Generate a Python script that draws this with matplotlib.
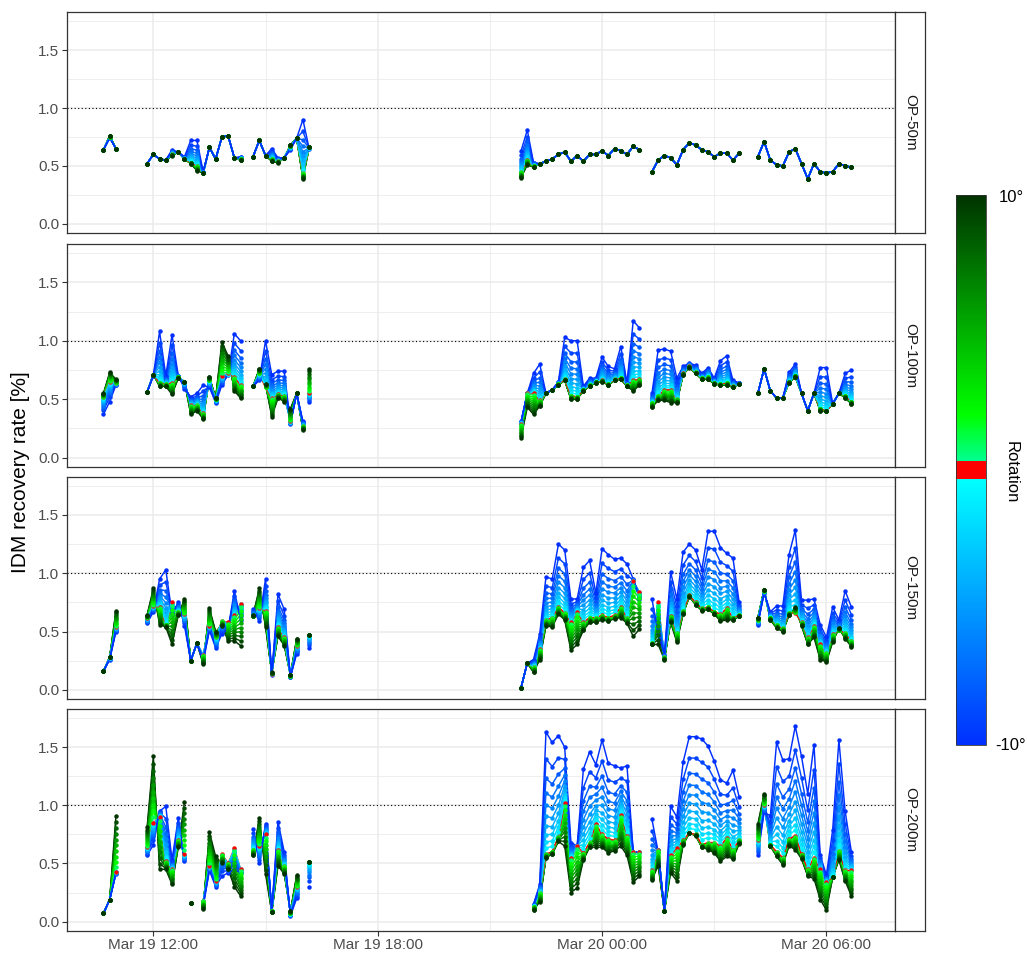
import numpy as np
import pandas as pd
import matplotlib
matplotlib.use("Agg")
import matplotlib.pyplot as plt
import matplotlib.dates as mdates
from matplotlib.ticker import MultipleLocator
from matplotlib.colors import LinearSegmentedColormap, Normalize
from matplotlib.cm import ScalarMappable

plt.rcParams['font.family'] = ['Liberation Sans', 'DejaVu Sans']

# ---------------------------------------------------------------- data
panel_names = ["OP-50m", "OP-100m", "OP-150m", "OP-200m"]
rotations = list(range(-10, 11))

# share of the (-10 deg minus 0 deg) gap reached at rotation -1 ... -10
spread_neg = [0.05, 0.10, 0.16, 0.23, 0.31, 0.40, 0.50, 0.62, 0.78, 1.00]
# share of the (+10 deg minus 0 deg) gap reached at rotation +1 ... +10
spread_pos = [0.08, 0.17, 0.27, 0.37, 0.47, 0.57, 0.67, 0.78, 0.89, 1.00]

# sampling runs (10 min steps), start / end
seg_50 = [("03-19 10:40", "03-19 11:00"), ("03-19 11:50", "03-19 14:20"),
          ("03-19 14:40", "03-19 16:10"), ("03-19 21:50", "03-20 01:00"),
          ("03-20 01:20", "03-20 03:40"), ("03-20 04:10", "03-20 06:40")]
seg_100 = [("03-19 10:40", "03-19 11:00"), ("03-19 11:50", "03-19 14:20"),
           ("03-19 14:40", "03-19 16:00"), ("03-19 16:10", "03-19 16:10"),
           ("03-19 21:50", "03-20 01:00"), ("03-20 01:20", "03-20 03:40"),
           ("03-20 04:10", "03-20 06:40")]
seg_150 = [("03-19 10:40", "03-19 11:00"), ("03-19 11:50", "03-19 14:20"),
           ("03-19 14:40", "03-19 15:50"), ("03-19 16:10", "03-19 16:10"),
           ("03-19 21:50", "03-20 01:00"), ("03-20 01:20", "03-20 03:40"),
           ("03-20 04:10", "03-20 06:40")]
seg_200 = [("03-19 10:40", "03-19 11:00"), ("03-19 11:50", "03-19 12:50"),
           ("03-19 13:00", "03-19 13:00"), ("03-19 13:20", "03-19 14:20"),
           ("03-19 14:40", "03-19 15:50"), ("03-19 16:10", "03-19 16:10"),
           ("03-19 22:10", "03-20 01:00"), ("03-20 01:20", "03-20 03:40"),
           ("03-20 04:10", "03-20 06:40")]

# recovery rate at rotation -10 deg (lo), 0 deg (mid), +10 deg (hi)
lo_50 = [.64, .74, .65,
         .52, .60, .56, .55, .64, .62, .58, .72, .72, .45, .66, .56, .75, .76, .57, .58,
         .58, .72, .59, .65, .57, .57, .64, .74, .90, .65,
         .63, .81, .53, .52, .54, .56, .60, .62, .54, .59, .54, .60, .60, .63, .59, .65, .63, .60, .67, .64,
         .45, .55, .59, .57, .51, .64, .70, .68, .64, .62, .58, .61, .61, .55, .61,
         .58, .71, .55, .51, .50, .62, .65, .52, .39, .52, .45, .44, .45, .52, .50, .49]
mid_50 = [.64, .75, .65,
          .52, .60, .56, .55, .60, .62, .56, .53, .50, .44, .66, .56, .75, .76, .57, .56,
          .58, .72, .59, .56, .54, .57, .67, .74, .44, .66,
          .45, .55, .50, .52, .54, .56, .60, .62, .54, .59, .54, .60, .60, .63, .59, .65, .63, .60, .67, .64,
          .45, .55, .59, .57, .51, .64, .70, .68, .64, .62, .58, .61, .61, .55, .61,
          .58, .71, .55, .51, .50, .62, .65, .52, .39, .52, .45, .44, .45, .52, .50, .49]
hi_50 = [.64, .76, .65,
         .52, .60, .56, .55, .59, .62, .56, .52, .46, .44, .66, .56, .75, .76, .57, .55,
         .58, .72, .59, .54, .53, .57, .68, .74, .39, .66,
         .40, .51, .49, .52, .54, .56, .60, .62, .54, .59, .54, .60, .60, .63, .59, .65, .63, .60, .67, .64,
         .45, .55, .59, .57, .51, .64, .70, .68, .64, .62, .58, .61, .61, .55, .61,
         .58, .71, .55, .51, .50, .62, .65, .52, .39, .52, .45, .44, .45, .52, .50, .49]

lo_100 = [.37, .48, .62,
          .56, .70, 1.08, .70, 1.05, .70, .59, .52, .55, .62, .60, .47, .62, .71, 1.06, 1.00,
          .61, .66, 1.00, .71, .74, .74, .29, .55, .31,
          .48,
          .31, .55, .72, .80, .55, .58, .65, 1.03, 1.00, 1.00, .61, .68, .68, .86, .78, .76, .95, .64, 1.17, 1.11,
          .55, .92, .93, .91, .68, .78, .81, .79, .72, .77, .68, .83, .87, .66, .64,
          .55, .76, .57, .51, .51, .73, .80, .55, .40, .55, .77, .77, .46, .55, .72, .75]
mid_100 = [.52, .65, .64,
           .56, .71, .64, .63, .64, .69, .65, .45, .45, .38, .66, .50, .70, .72, .69, .62,
           .61, .72, .60, .51, .54, .53, .31, .55, .27,
           .55,
           .29, .55, .55, .49, .55, .58, .63, .67, .53, .52, .58, .62, .65, .66, .63, .67, .68, .62, .66, .67,
           .47, .53, .58, .58, .50, .72, .78, .73, .68, .69, .64, .63, .64, .61, .63,
           .55, .76, .57, .51, .51, .65, .70, .55, .40, .55, .42, .40, .46, .55, .53, .48]
hi_100 = [.55, .73, .67,
          .56, .71, .61, .61, .54, .68, .65, .37, .40, .33, .69, .51, .99, .87, .57, .51,
          .61, .76, .63, .35, .51, .48, .42, .55, .24,
          .76,
          .17, .43, .37, .44, .55, .58, .62, .66, .50, .50, .57, .61, .64, .65, .62, .66, .67, .61, .57, .62,
          .43, .49, .49, .47, .47, .71, .77, .72, .67, .67, .63, .62, .62, .60, .63,
          .55, .76, .57, .51, .51, .64, .69, .55, .40, .55, .40, .40, .46, .55, .51, .46]

lo_150 = [.16, .26, .50,
          .57, .67, .95, 1.03, .65, .75, .55, .25, .40, .24, .51, .36, .48, .52, .85, .60,
          .69, .59, .95, .13, .82, .69, .11, .31,
          .36,
          .02, .23, .26, .48, .97, .95, 1.25, 1.20, .78, .78, 1.05, 1.11, .83, 1.21, 1.16, 1.12, 1.13, 1.08, .95, .78,
          .78, .48, .30, 1.01, .78, 1.18, 1.25, 1.20, 1.03, 1.36, 1.36, 1.22, 1.17, 1.13, .75,
          .56, .83, .67, .72, .72, 1.16, 1.37, .77, .77, .78, .56, .45, .71, .60, .85, .71]
mid_150 = [.16, .28, .54,
           .62, .72, .71, .56, .75, .67, .65, .25, .40, .30, .55, .45, .59, .58, .64, .74,
           .63, .70, .68, .14, .54, .45, .12, .38,
           .47,
           .02, .23, .20, .35, .60, .62, .71, .66, .58, .67, .58, .62, .62, .64, .62, .64, .71, .62, .93, .84,
           .40, .75, .28, .63, .49, .68, .81, .75, .70, .71, .67, .65, .70, .62, .64,
           .60, .85, .62, .56, .53, .66, .66, .58, .45, .55, .39, .32, .48, .51, .49, .42]
hi_150 = [.16, .28, .68,
          .64, .87, .56, .54, .39, .64, .78, .25, .40, .22, .70, .50, .55, .42, .42, .38,
          .64, .87, .54, .15, .46, .38, .13, .44,
          .47,
          .02, .23, .15, .26, .55, .54, .65, .60, .34, .39, .51, .58, .58, .60, .59, .61, .62, .57, .46, .52,
          .39, .39, .26, .58, .41, .65, .80, .73, .68, .69, .65, .59, .60, .60, .63,
          .62, .86, .60, .53, .50, .64, .71, .55, .39, .45, .26, .24, .41, .53, .44, .37]

lo_200 = [.07, .19, .41,
          .57, .66, .95, .99, .53, .89, .52,
          .16,
          .13, .44, .30, .39, .42, .45, .42,
          .80, .50, .84, .09, .86, .60, .05, .20,
          .30,
          .15, .32, 1.63, 1.54, 1.60, 1.50, .68, .65, 1.31, 1.46, 1.35, 1.56, 1.36, 1.34, 1.32, 1.34, .60, .60,
          .88, .60, .09, .99, .90, 1.37, 1.59, 1.59, 1.57, 1.51, 1.38, 1.22, 1.19, 1.30, 1.07,
          .57, .94, .91, 1.54, 1.39, 1.40, 1.68, 1.42, 1.10, 1.52, .57, .40, .79, 1.56, .95, .60]
mid_200 = [.07, .19, .43,
           .64, .85, .90, .52, .45, .70, .58,
           .16,
           .18, .48, .35, .58, .50, .63, .45,
           .62, .65, .75, .09, .62, .48, .07, .30,
           .51,
           .13, .25, .58, .60, .73, 1.02, .55, .65, .59, .68, .84, .75, .71, .70, .92, .74, .60, .60,
           .44, .62, .09, .57, .63, .70, .76, .75, .66, .68, .68, .65, .72, .62, .70,
           .70, 1.00, .66, .60, .55, .71, .74, .58, .45, .55, .45, .34, .38, .61, .44, .44]
hi_200 = [.07, .19, .91,
          .81, 1.42, .45, .45, .32, .64, 1.03,
          .16,
          .11, .77, .56, .50, .45, .30, .22,
          .57, .89, .41, .08, .48, .41, .09, .40,
          .51,
          .10, .17, .55, .58, .69, .65, .25, .29, .53, .64, .64, .64, .59, .61, .65, .57, .34, .39,
          .36, .48, .09, .42, .35, .66, .76, .74, .64, .62, .59, .52, .56, .54, .67,
          .84, 1.10, .65, .56, .49, .65, .62, .54, .39, .37, .19, .10, .38, .53, .35, .22]

panels = [(seg_50, lo_50, mid_50, hi_50), (seg_100, lo_100, mid_100, hi_100),
          (seg_150, lo_150, mid_150, hi_150), (seg_200, lo_200, mid_200, hi_200)]

# ---------------------------------------------------------------- colours
cmap = LinearSegmentedColormap.from_list("rotation", [
    (0.0, "#0030ff"), (0.4825, "#00ffff"), (0.4825, "#ff0000"),
    (0.5175, "#ff0000"), (0.5175, "#00ff90"), (0.6, "#00ff00"),
    (1.0, "#003300")])
norm = Normalize(-10, 10)


def rot_colour(r):
    if r == 0:
        return "#ff0000"
    return cmap(norm(r))


def rot_values(lo, mid, hi, r):
    lo, mid, hi = map(np.asarray, (lo, mid, hi))
    if r < 0:
        return mid + spread_neg[-r - 1] * (lo - mid)
    if r > 0:
        return mid + spread_pos[r - 1] * (hi - mid)
    return mid


def seg_times(segs):
    out = []
    for a, b in segs:
        out.append(pd.date_range("2021-" + a, "2021-" + b, freq="10min"))
    return out


# ---------------------------------------------------------------- figure
W, H = 1027, 956
fig = plt.figure(figsize=(W / 100, H / 100), dpi=100)

left, right = 66.7, 895
tops = [12, 244, 476.7, 709]
bots = [233, 466.7, 699, 930.7]

grid_c = "#EBEBEB"
border_c = "#333333"
x0 = pd.Timestamp("2021-03-19 09:41")
x1 = pd.Timestamp("2021-03-20 07:50")

for k, (segs, lo, mid, hi) in enumerate(panels):
    ax = fig.add_axes([left / W, 1 - bots[k] / H, (right - left) / W,
                       (bots[k] - tops[k]) / H])
    ax.set_xlim(x0, x1)
    ax.set_ylim(-0.078, 1.828)
    ax.yaxis.set_major_locator(MultipleLocator(0.5))
    ax.yaxis.set_minor_locator(MultipleLocator(0.25))
    ax.xaxis.set_major_locator(mdates.HourLocator(byhour=[0, 6, 12, 18]))
    ax.xaxis.set_minor_locator(mdates.HourLocator(byhour=[3, 9, 15, 21]))
    ax.xaxis.set_major_formatter(mdates.DateFormatter("%b %d %H:%M"))
    ax.grid(which="major", color=grid_c, lw=1.1, zorder=0)
    ax.grid(which="minor", color=grid_c, lw=0.6, zorder=0)
    ax.set_axisbelow(True)
    for s in ax.spines.values():
        s.set_color(border_c)
        s.set_linewidth(0.9)
    ax.tick_params(axis="both", which="minor", length=0)
    ax.tick_params(axis="both", which="major", length=3.5, width=0.8,
                   color=border_c, labelsize=11, labelcolor="#4D4D4D", pad=2)
    if k < 3:
        ax.tick_params(axis="x", which="major", length=0, labelbottom=False)
    ax.axhline(1.0, color="black", lw=0.8, ls=(0, (1, 2.2)), zorder=1)

    times = seg_times(segs)
    bounds = np.cumsum([0] + [len(t) for t in times])
    vals = {r: rot_values(lo, mid, hi, r) for r in rotations}

    # lines: +10 first, -10 last
    for r in sorted(rotations, reverse=True):
        for i, t in enumerate(times):
            if len(t) < 2:
                continue
            ax.plot(t, vals[r][bounds[i]:bounds[i + 1]], color=rot_colour(r),
                    lw=1.05, zorder=2, solid_capstyle="round")
    # points: -10 first, +10 last
    for r in rotations:
        for i, t in enumerate(times):
            ax.plot(t, vals[r][bounds[i]:bounds[i + 1]], ls="none", marker="o",
                    ms=3.2, mec="none", mfc=rot_colour(r), zorder=3)

    # facet strip on the right
    sax = fig.add_axes([right / W, 1 - bots[k] / H, 30 / W,
                        (bots[k] - tops[k]) / H])
    sax.set_xticks([])
    sax.set_yticks([])
    sax.set_facecolor("white")
    for s in sax.spines.values():
        s.set_color(border_c)
        s.set_linewidth(0.9)
    sax.text(0.5, 0.5, panel_names[k], rotation=-90, ha="center", va="center",
             fontsize=11, color="#1A1A1A", transform=sax.transAxes)

fig.text(21 / W, 1 - 472 / H, "IDM recovery rate [%]", rotation=90,
         ha="center", va="center", fontsize=15, color="black")

# colour bar
cax = fig.add_axes([956 / W, 1 - 745 / H, 30 / W, 550 / H])
cb = fig.colorbar(ScalarMappable(norm=norm, cmap=cmap), cax=cax)
cb.set_ticks([])
cb.outline.set_linewidth(0.6)
cb.outline.set_edgecolor("#333333")
fig.text(999 / W, 1 - 197 / H, "10°", ha="left", va="center", fontsize=12)
fig.text(995 / W, 1 - 745 / H, "-10°", ha="left", va="center", fontsize=12)
fig.text(1011 / W, 1 - 472 / H, "Rotation", rotation=-90, ha="center",
         va="center", fontsize=12)

fig.savefig("out.png", dpi=100)
